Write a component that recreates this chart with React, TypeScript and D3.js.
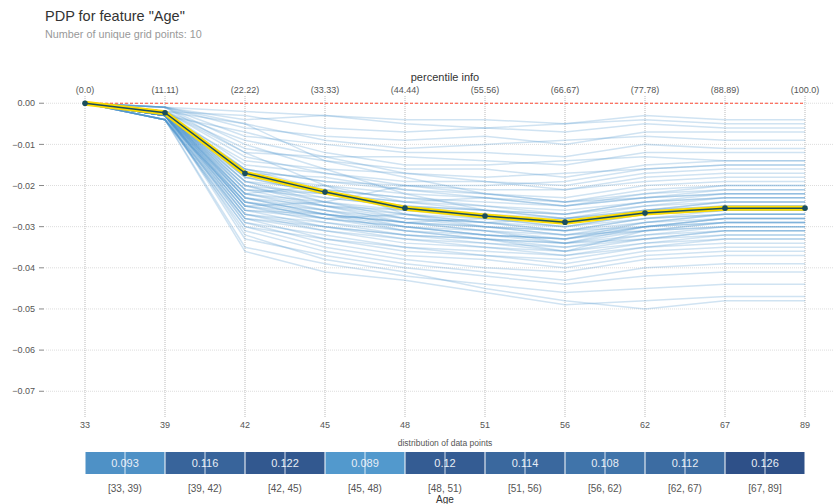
import { useEffect, useRef } from "react";
import * as d3 from "d3";

const gridLabels = ["33", "39", "42", "45", "48", "51", "56", "62", "67", "89"];
const percentiles = ["(0.0)", "(11.11)", "(22.22)", "(33.33)", "(44.44)", "(55.56)", "(66.67)", "(77.78)", "(88.89)", "(100.0)"];
const pdpValues = [0, -0.0023, -0.017, -0.0216, -0.0255, -0.0274, -0.0289, -0.0267, -0.0255, -0.0255];
const yTicks = [0, -0.01, -0.02, -0.03, -0.04, -0.05, -0.06, -0.07];

// ICE lines, values in thousandths
const iceLines = [
  [0, -1, -2, -3, -4, -4, -5, -3, -4, -4],
  [0, -1, -4, -3, -5, -6, -5, -4, -5, -5],
  [0, -2, -3, -6, -7, -6, -7, -5, -6, -6],
  [0, -1, -6, -8, -9, -8, -10, -7, -7, -7],
  [0, -2, -5, -9, -11, -10, -9, -8, -9, -9],
  [0, -1, -8, -10, -12, -12, -13, -10, -11, -11],
  [0, -2, -9, -13, -13, -14, -15, -12, -12, -12],
  [0, -3, -7, -12, -15, -15, -14, -13, -14, -14],
  [0, -2, -11, -14, -16, -16, -18, -15, -14, -14],
  [0, -2, -12, -13, -17, -18, -17, -16, -15, -15],
  [0, -3, -14, -16, -17, -19, -20, -17, -16, -16],
  [0, -2, -13, -17, -19, -19, -21, -18, -17, -17],
  [0, -2, -15, -17, -20, -21, -21, -19, -18, -18],
  [0, -3, -16, -19, -20, -22, -23, -20, -19, -19],
  [0, -2, -17, -18, -21, -22, -24, -21, -20, -20],
  [0, -2, -18, -20, -22, -23, -24, -22, -21, -21],
  [0, -3, -16, -21, -23, -24, -25, -23, -21, -21],
  [0, -2, -19, -21, -23, -25, -26, -24, -22, -22],
  [0, -3, -18, -22, -24, -25, -27, -24, -23, -23],
  [0, -2, -20, -22, -25, -26, -27, -25, -23, -23],
  [0, -3, -19, -23, -25, -27, -28, -26, -24, -24],
  [0, -2, -21, -22, -26, -27, -29, -26, -25, -25],
  [0, -3, -20, -24, -26, -28, -29, -27, -25, -25],
  [0, -2, -22, -24, -27, -28, -30, -27, -26, -26],
  [0, -3, -21, -25, -27, -29, -30, -28, -26, -26],
  [0, -2, -23, -25, -28, -29, -31, -28, -27, -27],
  [0, -3, -22, -26, -28, -30, -31, -29, -27, -27],
  [0, -3, -24, -26, -29, -30, -32, -29, -28, -28],
  [0, -2, -23, -27, -29, -31, -32, -30, -28, -28],
  [0, -3, -25, -27, -30, -31, -33, -30, -29, -29],
  [0, -4, -24, -28, -30, -32, -33, -31, -29, -29],
  [0, -3, -26, -28, -31, -32, -34, -31, -30, -30],
  [0, -3, -25, -29, -31, -33, -34, -32, -30, -30],
  [0, -4, -27, -29, -32, -33, -35, -32, -31, -31],
  [0, -3, -26, -30, -33, -34, -35, -33, -31, -31],
  [0, -4, -28, -31, -33, -35, -36, -34, -32, -32],
  [0, -3, -27, -31, -34, -35, -37, -34, -33, -33],
  [0, -4, -29, -32, -35, -36, -37, -35, -33, -33],
  [0, -3, -28, -33, -35, -37, -38, -35, -34, -34],
  [0, -4, -30, -33, -36, -37, -39, -36, -35, -35],
  [0, -3, -29, -34, -37, -38, -40, -37, -36, -36],
  [0, -4, -30, -35, -38, -40, -41, -38, -37, -37],
  [0, -4, -31, -36, -39, -41, -43, -40, -39, -39],
  [0, -3, -33, -37, -40, -42, -44, -42, -41, -41],
  [0, -4, -35, -39, -42, -44, -46, -45, -44, -44],
  [0, -4, -36, -41, -43, -46, -49, -48, -47, -47],
  [0, -3, -32, -38, -41, -45, -48, -50, -48, -48],
  [0, -1, -10, -16, -22, -26, -28, -26, -25, -25],
  [0, -2, -25, -24, -20, -20, -19, -16, -15, -15],
  [0, -1, -5, -14, -18, -22, -24, -23, -22, -22],
  [0, -3, -22, -20, -24, -23, -25, -22, -20, -20],
  [0, -2, -24, -28, -27, -29, -28, -25, -24, -24],
  [0, -1, -12, -20, -27, -30, -32, -31, -30, -30],
  [0, -3, -26, -27, -29, -28, -30, -27, -26, -26],
  [0, -2, -20, -25, -29, -31, -34, -33, -32, -32],
  [0, -3, -23, -26, -30, -32, -33, -29, -27, -27],
  [0, -2, -19, -24, -28, -29, -31, -30, -29, -29],
  [0, -4, -28, -30, -32, -34, -36, -31, -29, -29],
  [0, -2, -21, -23, -25, -26, -28, -27, -26, -26],
  [0, -3, -24, -27, -31, -33, -36, -33, -31, -31],
  [0, -2, -16, -19, -21, -23, -25, -23, -22, -22],
  [0, -3, -27, -30, -32, -33, -34, -30, -28, -28],
  [0, -2, -22, -25, -26, -27, -29, -26, -24, -24],
  [0, -3, -25, -28, -30, -32, -33, -30, -28, -28],
  [0, -2, -18, -22, -24, -26, -27, -24, -23, -23],
  [0, -3, -23, -27, -29, -30, -31, -28, -27, -27],
];

const binLabels = ["[33, 39)", "[39, 42)", "[42, 45)", "[45, 48)", "[48, 51)", "[51, 56)", "[56, 62)", "[62, 67)", "[67, 89]"];
const binShares = [0.093, 0.116, 0.122, 0.089, 0.12, 0.114, 0.108, 0.112, 0.126];
const binText = ["0.093", "0.116", "0.122", "0.089", "0.12", "0.114", "0.108", "0.112", "0.126"];

export default function App() {
  const svgRef = useRef<SVGSVGElement>(null);
  const width = 833, height = 504;

  useEffect(() => {
    const svg = d3.select(svgRef.current);
    svg.selectAll("*").remove();
    const font = "'Liberation Sans', Arial, sans-serif";

    const x = d3.scalePoint<number>()
      .domain(d3.range(gridLabels.length))
      .range([85, 805]);
    const y = d3.scaleLinear()
      .domain([-0.0765, 0.002])
      .range([418, 95]);

    // title
    svg.append("text")
      .attr("x", 45).attr("y", 21)
      .style("font-family", font).style("font-size", "14.5px")
      .attr("fill", "#333")
      .text('PDP for feature "Age"');
    svg.append("text")
      .attr("x", 45).attr("y", 38)
      .style("font-family", font).style("font-size", "10.8px")
      .attr("fill", "#999")
      .text("Number of unique grid points: 10");

    // horizontal grid + y labels
    const yg = svg.append("g");
    yTicks.forEach(t => {
      yg.append("line")
        .attr("x1", 46).attr("x2", width)
        .attr("y1", y(t)).attr("y2", y(t))
        .attr("stroke", "#ddd").attr("stroke-dasharray", "1,1");
      yg.append("line")
        .attr("x1", 39).attr("x2", 44)
        .attr("y1", y(t)).attr("y2", y(t))
        .attr("stroke", "#888");
      yg.append("text")
        .attr("x", 35).attr("y", y(t)).attr("dy", "0.35em")
        .attr("text-anchor", "end")
        .style("font-family", font).style("font-size", "9px")
        .attr("fill", "#555")
        .text(d3.format(".2f")(t).replace("-", "\u2212"));
    });

    // vertical grid + top/bottom labels
    const xg = svg.append("g");
    gridLabels.forEach((g, i) => {
      xg.append("line")
        .attr("x1", x(i)).attr("x2", x(i))
        .attr("y1", 96).attr("y2", 417)
        .attr("stroke", "#bbb").attr("stroke-dasharray", "1,1");
      xg.append("text")
        .attr("x", x(i)).attr("y", 428)
        .attr("text-anchor", "middle")
        .style("font-family", font).style("font-size", "9px")
        .attr("fill", "#555")
        .text(g);
      xg.append("text")
        .attr("x", x(i)).attr("y", 93)
        .attr("text-anchor", "middle")
        .style("font-family", font).style("font-size", "9px")
        .attr("fill", "#555")
        .text(percentiles[i]);
    });
    svg.append("text")
      .attr("x", 445).attr("y", 81)
      .attr("text-anchor", "middle")
      .style("font-family", font).style("font-size", "11px")
      .attr("fill", "#333")
      .text("percentile info");

    // ICE lines
    const iceLine = d3.line<number>()
      .x((_, i) => x(i) as number)
      .y(d => y(d / 1000));
    svg.append("g")
      .selectAll("path")
      .data(iceLines)
      .join("path")
        .attr("d", d => iceLine(d))
        .attr("fill", "none")
        .attr("stroke", "#4a93cc")
        .attr("stroke-opacity", 0.26)
        .attr("stroke-width", 1.5);

    // zero line
    svg.append("line")
      .attr("x1", x(0)).attr("x2", x(9))
      .attr("y1", y(0)).attr("y2", y(0))
      .attr("stroke", "#ff4a35").attr("stroke-width", 1.1)
      .attr("stroke-dasharray", "3,2");

    // PDP line
    const pdpLine = d3.line<number>()
      .x((_, i) => x(i) as number)
      .y(d => y(d));
    svg.append("path")
      .attr("d", pdpLine(pdpValues))
      .attr("fill", "none")
      .attr("stroke", "#FEDC00").attr("stroke-width", 5)
      .attr("stroke-linejoin", "round");
    svg.append("path")
      .attr("d", pdpLine(pdpValues))
      .attr("fill", "none")
      .attr("stroke", "#1A4E5D").attr("stroke-width", 1.5);
    svg.append("g")
      .selectAll("circle")
      .data(pdpValues)
      .join("circle")
        .attr("cx", (_, i) => x(i) as number)
        .attr("cy", d => y(d))
        .attr("r", 2.8)
        .attr("fill", "#1A4E5D");

    // distribution of data points
    svg.append("text")
      .attr("x", 445).attr("y", 446)
      .attr("text-anchor", "middle")
      .style("font-family", font).style("font-size", "8.5px")
      .attr("fill", "#555")
      .text("distribution of data points");

    const color = d3.scaleLinear<string>()
      .domain([d3.min(binShares) as number, d3.max(binShares) as number])
      .range(["#5299cd", "#2e5088"]);

    const bins = svg.append("g");
    binShares.forEach((s, i) => {
      const x0 = x(i) as number, x1 = x(i + 1) as number;
      const cx = (x0 + x1) / 2;
      bins.append("rect")
        .attr("x", x0 + 0.5).attr("y", 452)
        .attr("width", x1 - x0 - 1).attr("height", 22)
        .attr("fill", color(s));
      bins.append("text")
        .attr("x", cx).attr("y", 463).attr("dy", "0.35em")
        .attr("text-anchor", "middle")
        .style("font-family", font).style("font-size", "11px")
        .attr("fill", "#e8eef6")
        .text(binText[i]);
      bins.append("line")
        .attr("x1", cx).attr("x2", cx)
        .attr("y1", 452).attr("y2", 474)
        .attr("stroke", "#fff").attr("stroke-opacity", 0.8);
      bins.append("text")
        .attr("x", cx).attr("y", 492)
        .attr("text-anchor", "middle")
        .style("font-family", font).style("font-size", "10px")
        .attr("fill", "#555")
        .text(binLabels[i]);
    });

    svg.append("text")
      .attr("x", 445).attr("y", 503)
      .attr("text-anchor", "middle")
      .style("font-family", font).style("font-size", "10px")
      .attr("fill", "#333")
      .text("Age");
  }, []);

  return (
    <svg ref={svgRef} width={width} height={height}
      style={{ position: "absolute", left: 0, top: 0, background: "#fff" }} />
  );
}
